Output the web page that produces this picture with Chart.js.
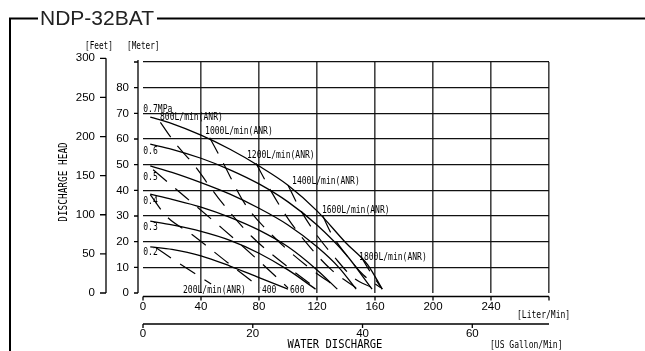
<!DOCTYPE html>
<html>
<head>
<meta charset="utf-8">
<script src="https://cdn.jsdelivr.net/npm/chart.js@4/dist/chart.umd.min.js"></script>
<style>
  body { margin: 0; background: #fff; }
  canvas { display: block; }
</style>
</head>
<body>
<canvas id="curvaBomba" width="645" height="351"></canvas>
<script>
// Curvas de presion de aire (MPa): caudal [L/min] y altura [m]
const p07Flow = [5, 20, 40, 60, 80, 100, 120, 140, 155, 165];
const p07Head = [68.5, 66, 61.5, 56, 49.5, 42, 32, 19.5, 11, 1.5];
const p06Flow = [5, 20, 40, 60, 80, 100, 120, 140, 158];
const p06Head = [58, 56, 52.5, 48, 42.5, 35.5, 26.5, 15, 1.5];
const p05Flow = [5, 20, 40, 60, 80, 100, 120, 135, 147];
const p05Head = [49.5, 47, 43, 38.5, 33, 26.5, 18, 10, 1.5];
const p04Flow = [5, 20, 40, 60, 80, 100, 120, 134];
const p04Head = [38.5, 36.5, 33.5, 29.5, 24.5, 18, 9, 1.5];
const p03Flow = [5, 20, 40, 60, 80, 100, 119];
const p03Head = [28, 26.5, 24, 20.5, 15.5, 9, 1.5];
const p02Flow = [5, 20, 40, 60, 80, 100];
const p02Head = [18, 17, 14.5, 10.5, 6, 1.5];

// Lineas de consumo de aire (L/min ANR)
const iso200Flow = [9, 25, 47];
const iso200Head = [17.6, 11.5, 3.5];
const iso400Flow = [5, 16, 34, 58, 81];
const iso400Head = [38.3, 30, 22.7, 12, 2];
const iso600Flow = [7, 30, 55, 80, 100];
const iso600Head = [48, 37, 25, 12.5, 2];
const iso800Flow = [12, 22, 35, 52, 75, 98, 119];
const iso800Head = [66.5, 58.5, 50, 37, 22, 11, 2];
const iso1000Flow = [46, 55, 70, 90, 112, 134];
const iso1000Head = [60.5, 51, 35, 22, 11, 2];
const iso1200Flow = [78, 88, 100, 115, 130, 147];
const iso1200Head = [50.5, 40, 29, 18, 9, 2];
const iso1400Flow = [100, 108, 118, 132, 145, 158];
const iso1400Head = [42, 33, 24, 14, 6, 2];
const iso1600Flow = [124, 130, 140, 152, 164];
const iso1600Head = [30, 23, 15, 7, 2];
const iso1800Flow = [150, 157, 165];
const iso1800Head = [14.5, 8, 1.5];

// Marcas de los ejes
const flowTicks = [0, 40, 80, 120, 160, 200, 240, 280];
const flowLabels = [0, 40, 80, 120, 160, 200, 240];
const gallonTicks = [0, 20, 40, 60];
const meterTicks = [0, 10, 20, 30, 40, 50, 60, 70, 80, 90];
const meterLabels = [0, 10, 20, 30, 40, 50, 60, 70, 80];
const feetTicks = [0, 50, 100, 150, 200, 250, 300];
const gridFlow = [40, 80, 120, 160, 200, 240, 280];
const gridHead = [10, 20, 30, 40, 50, 60, 70, 80, 90];

const pts = (xs, ys) => xs.map((x, i) => ({ x: x, y: ys[i] }));

const curva = (xs, ys) => ({
  data: pts(xs, ys),
  borderColor: '#000',
  borderWidth: 1.3,
  pointRadius: 0,
  cubicInterpolationMode: 'monotone',
  fill: false
});
const iso = (xs, ys) => ({
  data: pts(xs, ys),
  borderColor: '#000',
  borderWidth: 1.2,
  borderDash: [18, 11],
  pointRadius: 0,
  cubicInterpolationMode: 'monotone',
  fill: false
});

// Texto estrecho tipo gothic
function texto(ctx, t, x, y, size, sx, align) {
  ctx.save();
  ctx.translate(x, y);
  ctx.scale(sx, 1);
  ctx.font = size + 'px "DejaVu Sans Mono"';
  ctx.textAlign = align || 'left';
  ctx.textBaseline = 'middle';
  ctx.fillStyle = '#000';
  ctx.fillText(t, 0, 0);
  ctx.restore();
}

const decor = {
  id: 'decor',
  afterDraw(chart) {
    const ctx = chart.ctx;
    const sx = chart.scales.x, sy = chart.scales.y;
    const sFt = chart.scales.yFt, sGal = chart.scales.xGal;
    ctx.save();
    ctx.strokeStyle = '#000';

    // marco y titulo
    ctx.lineWidth = 2;
    ctx.beginPath();
    ctx.moveTo(10, 351); ctx.lineTo(10, 18.5); ctx.lineTo(38, 18.5);
    ctx.moveTo(157, 18.5); ctx.lineTo(645, 18.5);
    ctx.stroke();
    ctx.font = '21px "Liberation Sans"';
    ctx.fillStyle = '#222';
    ctx.textBaseline = 'middle';
    ctx.textAlign = 'left';
    ctx.fillText('NDP-32BAT', 40, 19.5);

    ctx.lineWidth = 1.3;
    ctx.font = '11.5px "Liberation Sans"';
    ctx.fillStyle = '#000';

    // eje pies
    ctx.beginPath();
    ctx.moveTo(106, sFt.getPixelForValue(300));
    ctx.lineTo(106, sFt.getPixelForValue(0));
    feetTicks.forEach(v => {
      const p = sFt.getPixelForValue(v);
      ctx.moveTo(100, p); ctx.lineTo(106, p);
    });
    ctx.stroke();
    ctx.textAlign = 'right';
    feetTicks.forEach(v => ctx.fillText(String(v), 95, sFt.getPixelForValue(v)));

    // eje metros
    ctx.beginPath();
    ctx.moveTo(138, sy.getPixelForValue(90) - 2);
    ctx.lineTo(138, sy.getPixelForValue(0));
    meterTicks.forEach(v => {
      const p = sy.getPixelForValue(v);
      ctx.moveTo(134, p); ctx.lineTo(138, p);
    });
    ctx.stroke();
    meterLabels.forEach(v => ctx.fillText(String(v), 129, sy.getPixelForValue(v)));

    // eje caudal L/min
    const yL = sy.getPixelForValue(0) + 3.5;
    ctx.beginPath();
    ctx.moveTo(sx.getPixelForValue(0), yL);
    ctx.lineTo(sx.getPixelForValue(280), yL);
    flowTicks.forEach(v => {
      const p = sx.getPixelForValue(v);
      ctx.moveTo(p, yL); ctx.lineTo(p, yL + 4);
    });
    ctx.stroke();
    ctx.textAlign = 'center';
    flowLabels.forEach(v => ctx.fillText(String(v), sx.getPixelForValue(v), yL + 10));

    // eje galones
    const yG = yL + 27.5;
    ctx.beginPath();
    ctx.moveTo(sx.getPixelForValue(0), yG);
    ctx.lineTo(sx.getPixelForValue(280), yG);
    gallonTicks.forEach(v => {
      const p = sGal.getPixelForValue(v);
      ctx.moveTo(p, yG); ctx.lineTo(p, yG + 4);
    });
    ctx.stroke();
    gallonTicks.forEach(v => ctx.fillText(String(v), sGal.getPixelForValue(v), yG + 10));

    // titulos de ejes
    texto(ctx, '[Feet]', 85, 46.5, 11, 0.7);
    texto(ctx, '[Meter]', 127, 46.5, 11, 0.7);
    texto(ctx, '[Liter/Min]', 517, 315.5, 11, 0.73);
    texto(ctx, '[US Gallon/Min]', 490, 345.5, 11, 0.73);
    texto(ctx, 'WATER DISCHARGE', 335, 345, 12.5, 0.84, 'center');
    ctx.save();
    ctx.translate(64, 182);
    ctx.rotate(-Math.PI / 2);
    texto(ctx, 'DISCHARGE HEAD', 0, 0, 11.5, 0.82, 'center');
    ctx.restore();

    // etiquetas de curvas
    const et = (t, fx, hy) => texto(ctx, t, sx.getPixelForValue(fx), sy.getPixelForValue(hy), 11, 0.73);
    et('0.7MPa', 0.2, 71.8);
    et('0.6', 0.2, 55.4);
    et('0.5', 0.2, 45.3);
    et('0.4', 0.2, 35.6);
    et('0.3', 0.2, 25.8);
    et('0.2', 0.2, 16.1);
    et('800L/min(ANR)', 11.7, 68.7);
    et('1000L/min(ANR)', 42.8, 63.0);
    et('1200L/min(ANR)', 71.7, 53.6);
    et('1400L/min(ANR)', 102.8, 43.7);
    et('1600L/min(ANR)', 123.4, 32.1);
    et('1800L/min(ANR)', 149, 14.1);
    et('200L/min(ANR)', 27.6, 1.3);
    et('400', 82, 1.3);
    et('600', 101.4, 1.3);
    ctx.restore();
  }
};

new Chart(document.getElementById('curvaBomba'), {
  type: 'line',
  data: {
    datasets: [
      curva(p07Flow, p07Head), curva(p06Flow, p06Head), curva(p05Flow, p05Head),
      curva(p04Flow, p04Head), curva(p03Flow, p03Head), curva(p02Flow, p02Head),
      iso(iso200Flow, iso200Head), iso(iso400Flow, iso400Head), iso(iso600Flow, iso600Head),
      iso(iso800Flow, iso800Head), iso(iso1000Flow, iso1000Head), iso(iso1200Flow, iso1200Head),
      iso(iso1400Flow, iso1400Head), iso(iso1600Flow, iso1600Head), iso(iso1800Flow, iso1800Head)
    ]
  },
  options: {
    responsive: false,
    animation: false,
    devicePixelRatio: 1,
    layout: { padding: { left: 143, right: 96, top: 62, bottom: 58 } },
    plugins: { legend: { display: false }, tooltip: { enabled: false } },
    scales: {
      x: {
        type: 'linear', min: 0, max: 280,
        ticks: { display: false },
        grid: { drawTicks: false, color: '#444', lineWidth: 1.6 },
        border: { display: false },
        afterBuildTicks: s => { s.ticks = gridFlow.map(v => ({ value: v })); }
      },
      y: {
        type: 'linear', min: 0, max: 90,
        ticks: { display: false },
        grid: { drawTicks: false, color: '#111', lineWidth: 1.3 },
        border: { display: false },
        afterBuildTicks: s => { s.ticks = gridHead.map(v => ({ value: v })); }
      },
      yFt: { type: 'linear', display: false, min: 0, max: 90 / 0.3048 },
      xGal: { type: 'linear', display: false, axis: 'x', min: 0, max: 280 / 3.785 }
    }
  },
  plugins: [decor]
});
</script>
</body>
</html>
